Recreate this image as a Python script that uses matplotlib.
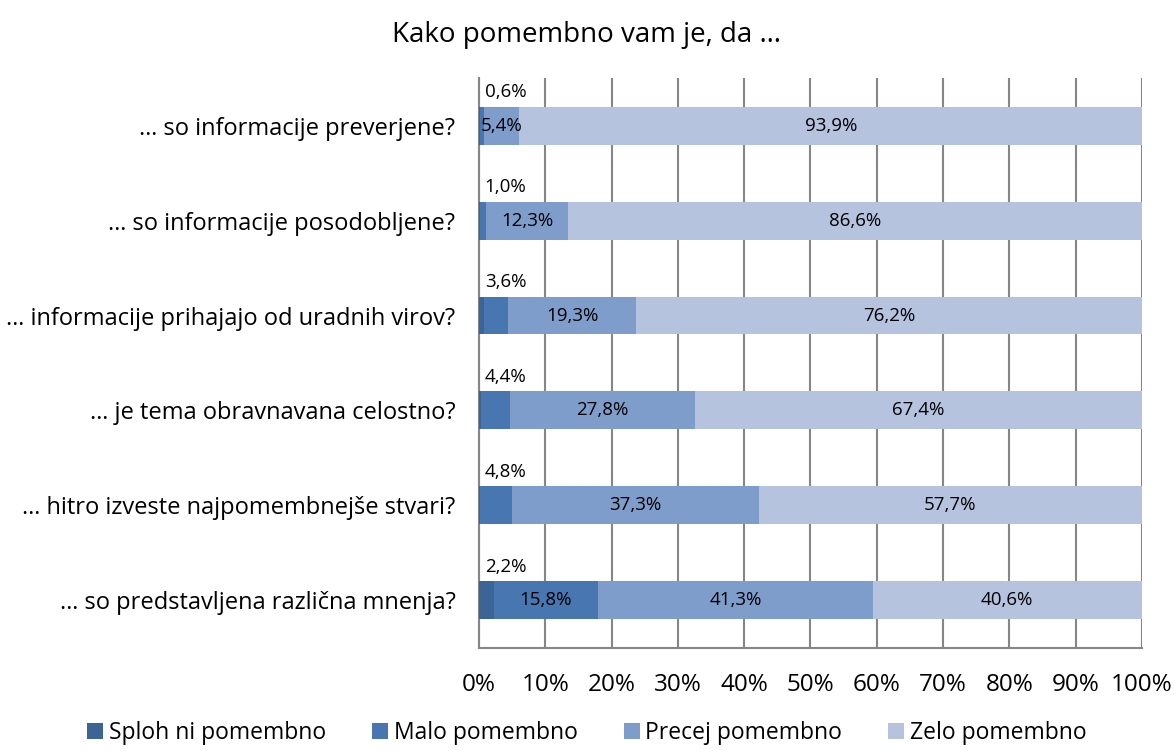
import numpy as np
import matplotlib.pyplot as plt

# survey answers, share of respondents in %
questions = ['… so informacije preverjene?',
             '… so informacije posodobljene?',
             '… informacije prihajajo od uradnih virov?',
             '… je tema obravnavana celostno?',
             '… hitro izveste najpomembnejše stvari?',
             '… so predstavljena različna mnenja?']
series_names = ['Sploh ni pomembno', 'Malo pomembno', 'Precej pomembno', 'Zelo pomembno']
sploh_ni = [0.1, 0.1, 0.8, 0.3, 0.1, 2.2]
malo = [0.6, 1.0, 3.6, 4.4, 4.8, 15.8]
precej = [5.4, 12.3, 19.3, 27.8, 37.3, 41.3]
zelo = [93.9, 86.6, 76.2, 67.4, 57.7, 40.6]

colors = ['#3b6597', '#4876b1', '#7f9dcb', '#b5c3de']

plt.rcParams['font.family'] = ['Open Sans', 'DejaVu Sans']

data = np.array([sploh_ni, malo, precej, zelo])
shares = data / data.sum(axis=0) * 100  # 100 % stacked like in Excel

fig = plt.figure(figsize=(11.74, 7.51), dpi=100)
ax = fig.add_axes([0.408, 0.1372, 0.5647, 0.7589])

y = np.arange(len(questions))
left = np.zeros(len(questions))
for i, name in enumerate(series_names):
    ax.barh(y, shares[i], left=left, height=0.4, color=colors[i], label=name, zorder=3)
    for j in range(len(questions)):
        val = data[i, j]
        # the first shown value sits above the bar when its segment is too thin
        if (i == 1 and j < 5) or (i == 0 and j == 5):
            ax.text(4.0, y[j] - 0.35, f'{val:.1f}%'.replace('.', ','), ha='center', va='center',
                    fontsize=13.5, color='black', zorder=4)
        elif i >= 1 and not (i == 1 and j < 5):
            ax.text(left[j] + shares[i, j] / 2, y[j], f'{val:.1f}%'.replace('.', ','),
                    ha='center', va='center', fontsize=13.5, color='black', zorder=4)
    left += shares[i]

ax.set_xlim(0, 100)
ax.set_ylim(len(questions) - 0.5, -0.5)
ax.set_yticks(y)
ax.set_yticklabels(questions, fontsize=17)
ax.set_xticks(np.arange(0, 101, 10))
ax.set_xticklabels([f'{v}%' for v in range(0, 101, 10)], fontsize=17.5)
ax.tick_params(axis='x', length=0, pad=18)
ax.tick_params(axis='y', length=0, pad=17)

ax.grid(axis='x', color='#868686', linewidth=1.5, zorder=0)
for side in ['top', 'right']:
    ax.spines[side].set_visible(False)
for side in ['left', 'bottom']:
    ax.spines[side].set_color('#868686')
    ax.spines[side].set_linewidth(1.5)

fig.suptitle('Kako pomembno vam je, da …', fontsize=20, x=0.5, y=0.972)

fig.legend(loc='lower center', ncol=4, bbox_to_anchor=(0.5, -0.02), frameon=False,
           fontsize=16.5, handlelength=0.7, handleheight=0.7, handletextpad=0.25,
           columnspacing=2.0)

fig.savefig('out.png', dpi=100)
